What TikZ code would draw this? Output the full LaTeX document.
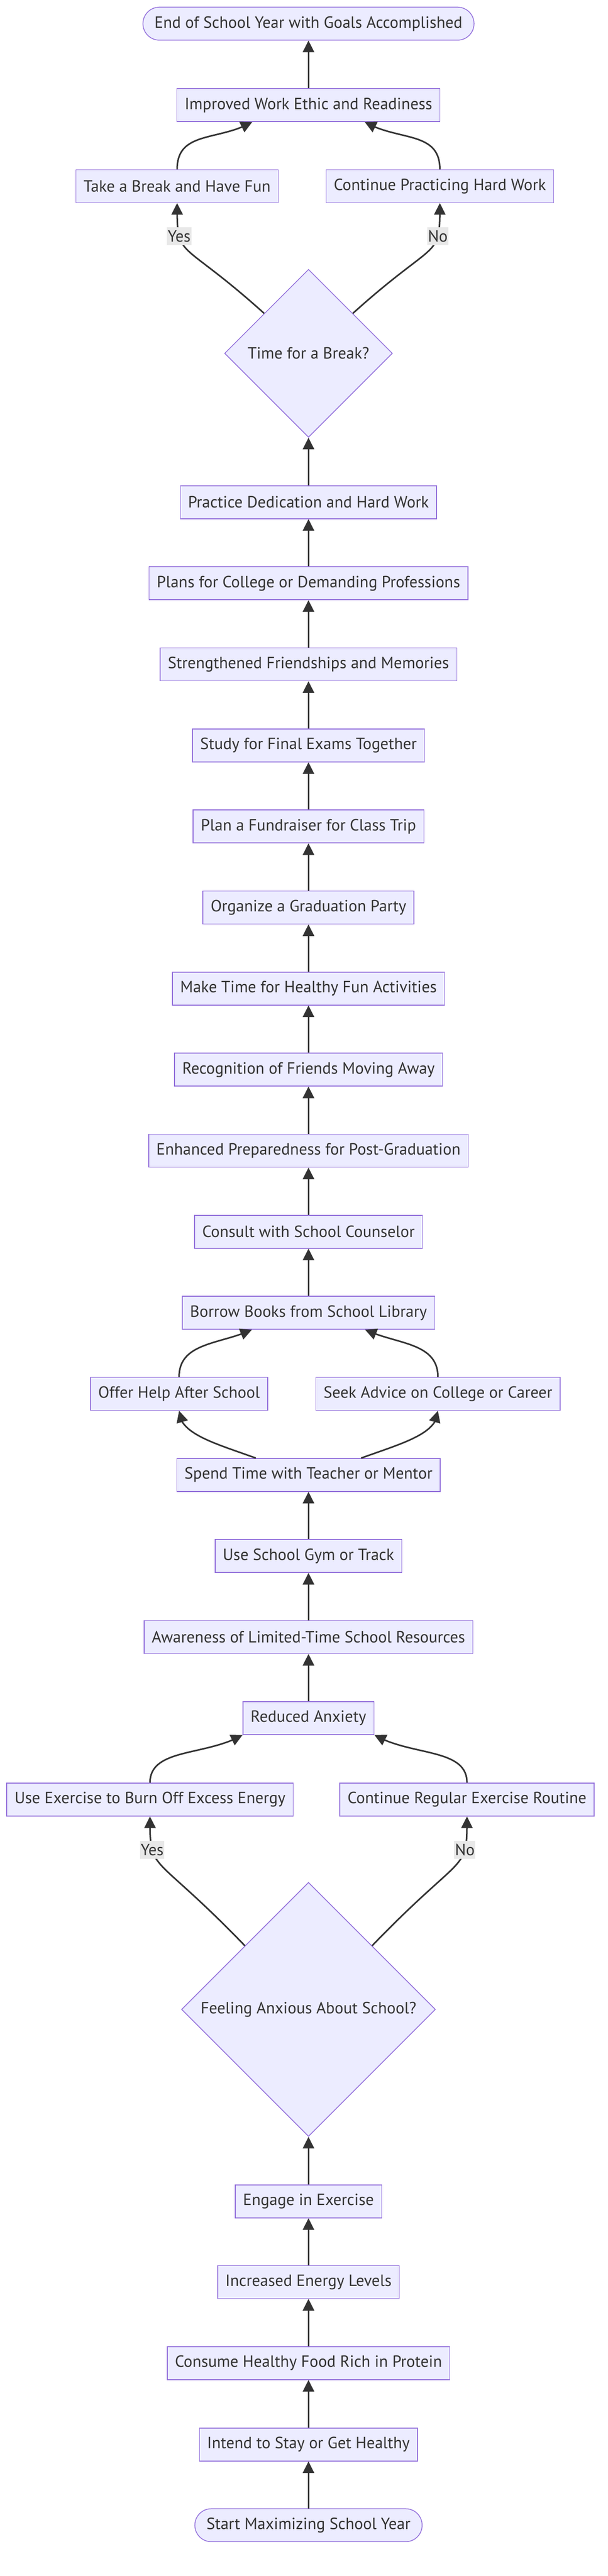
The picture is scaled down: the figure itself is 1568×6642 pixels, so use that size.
\documentclass[tikz,border=0pt]{standalone}
\usepackage{fontspec}
\setmainfont{PT Sans}
\usetikzlibrary{
    arrows.meta,
    bending,
    calc,
    shapes.geometric
}
\definecolor{boxfill}{HTML}{ECECFF}
\definecolor{boxline}{HTML}{9370DB}
\definecolor{edgeline}{HTML}{333333}
\definecolor{labelfill}{HTML}{E8E8E8}
\tikzset{
    % Nodes
    flow box/.style={draw=boxline,fill=boxfill,line width=0.5pt,text=edgeline,
        minimum height=21.25pt,inner xsep=5pt,inner ysep=0pt,
        font=\fontsize{10.5}{12}\selectfont},
    terminal/.style={flow box,rounded corners=10.6pt,inner xsep=7.5pt},
    decision/.style={flow box,diamond,aspect=1,minimum width=#1,minimum height=#1},
    edge label/.style={fill=labelfill,text=edgeline,inner xsep=0.5pt,inner ysep=0pt,
        minimum height=11.5pt,font=\fontsize{10.5}{12}\selectfont},
    %
    % Arrows
    arrow tip/.tip={Triangle[length=7.5pt,width=7.3pt]},
    arr/.style={->,>={arrow tip},draw=edgeline,line width=1pt}
}

\begin{document}
\begin{tikzpicture}[x=0.25pt,y=0.25pt]
    \useasboundingbox (0,0) rectangle (1568,-6642);

    % Top part
    \node[terminal] (finish) at (796,-61) {End of School Year with Goals Accomplished};
    \node[flow box] (workethic) at (796,-271) {Improved Work Ethic and Readiness};
    \node[flow box] (takebreak) at (457,-480) {Take a Break and Have Fun};
    \node[flow box] (keepworking) at (1135,-480) {Continue Practicing Hard Work};
    \node[decision=108.25pt] (breaktime) at (796,-911) {Time for a Break?};
    \node[flow box] (dedication) at (796,-1295) {Practice Dedication and Hard Work};
    \node[flow box] (plans) at (796,-1504) {Plans for College or Demanding Professions};
    \node[flow box] (friendships) at (796,-1713) {Strengthened Friendships and Memories};
    \node[flow box] (exams) at (796,-1922) {Study for Final Exams Together};
    \node[flow box] (fundraiser) at (796,-2131) {Plan a Fundraiser for Class Trip};
    \node[flow box] (party) at (796,-2340) {Organize a Graduation Party};
    \node[flow box] (funtime) at (796,-2549) {Make Time for Healthy Fun Activities};
    \node[flow box] (friendsaway) at (796,-2758) {Recognition of Friends Moving Away};
    \node[flow box] (prepared) at (796,-2967) {Enhanced Preparedness for Post-Graduation};
    \node[flow box] (counselor) at (796,-3176) {Consult with School Counselor};
    \node[flow box] (library) at (796,-3385) {Borrow Books from School Library};
    \node[flow box] (helpafter) at (462,-3594) {Offer Help After School};
    \node[flow box] (advice) at (1130,-3594) {Seek Advice on College or Career};
    \node[flow box] (mentor) at (796,-3803) {Spend Time with Teacher or Mentor};
    \node[flow box] (gym) at (796,-4012) {Use School Gym or Track};
    \node[flow box] (awareness) at (796,-4221) {Awareness of Limited-Time School Resources};
    \node[flow box] (reduced) at (796,-4430) {Reduced Anxiety};
    \node[flow box] (burnoff) at (387,-4640) {Use Exercise to Burn Off Excess Energy};
    \node[flow box] (routine) at (1205,-4640) {Continue Regular Exercise Routine};
    \node[decision=163.75pt] (anxious) at (796,-5181) {Feeling Anxious About School?};
    \node[flow box] (exercise) at (796,-5676) {Engage in Exercise};
    \node[flow box] (energy) at (796,-5884) {Increased Energy Levels};
    \node[flow box] (consume) at (796,-6093) {Consume Healthy Food Rich in Protein};
    \node[flow box] (intend) at (796,-6303) {Intend to Stay or Get Healthy};
    \node[terminal] (start) at (796,-6511) {Start Maximizing School Year};

    % Straight connectors
    \draw[arr] (start) -- (intend);
    \draw[arr] (intend) -- (consume);
    \draw[arr] (consume) -- (energy);
    \draw[arr] (energy) -- (exercise);
    \draw[arr] (exercise) -- (anxious);
    \draw[arr] (reduced) -- (awareness);
    \draw[arr] (awareness) -- (gym);
    \draw[arr] (gym) -- (mentor);
    \draw[arr] (library) -- (counselor);
    \draw[arr] (counselor) -- (prepared);
    \draw[arr] (prepared) -- (friendsaway);
    \draw[arr] (friendsaway) -- (funtime);
    \draw[arr] (funtime) -- (party);
    \draw[arr] (party) -- (fundraiser);
    \draw[arr] (fundraiser) -- (exams);
    \draw[arr] (exams) -- (friendships);
    \draw[arr] (friendships) -- (plans);
    \draw[arr] (plans) -- (dedication);
    \draw[arr] (dedication) -- (breaktime);
    \draw[arr] (workethic) -- (finish);

    % Anxiety decision
    \draw[arr] (anxious.135) .. controls +(134:350) and +(-90:150) .. (burnoff.south) node[pos=.72, edge label] {Yes};
    \draw[arr] (anxious.45) .. controls +(46:350) and +(-90:150) .. (routine.south) node[pos=.72, edge label] {No};
    \draw[arr] (burnoff.north) .. controls +(90:90) and +(-150:110) .. (reduced.south west);
    \draw[arr] (routine.north) .. controls +(90:90) and +(-30:110) .. (reduced.south east);

    % Mentor split
    \draw[arr] ($(mentor.north)+(-136,0)$) .. controls +(160:110) and +(-90:60) .. (helpafter.south);
    \draw[arr] ($(mentor.north)+(136,0)$) .. controls +(20:110) and +(-90:60) .. (advice.south);
    \draw[arr] (helpafter.north) .. controls +(90:90) and +(-155:90) .. ($(library.south)+(-146,0)$);
    \draw[arr] (advice.north) .. controls +(90:90) and +(-25:90) .. ($(library.south)+(146,0)$);

    % Break decision
    \draw[arr] (breaktime.138) .. controls +(138:300) and +(-90:150) .. (takebreak.south) node[pos=.72, edge label] {Yes};
    \draw[arr] (breaktime.42) .. controls +(42:300) and +(-90:150) .. (keepworking.south) node[pos=.72, edge label] {No};
    \draw[arr] (takebreak.north) .. controls +(90:100) and +(-150:100) .. ($(workethic.south)+(-145,0)$);
    \draw[arr] (keepworking.north) .. controls +(90:100) and +(-30:100) .. ($(workethic.south)+(145,0)$);
\end{tikzpicture}
\end{document}
